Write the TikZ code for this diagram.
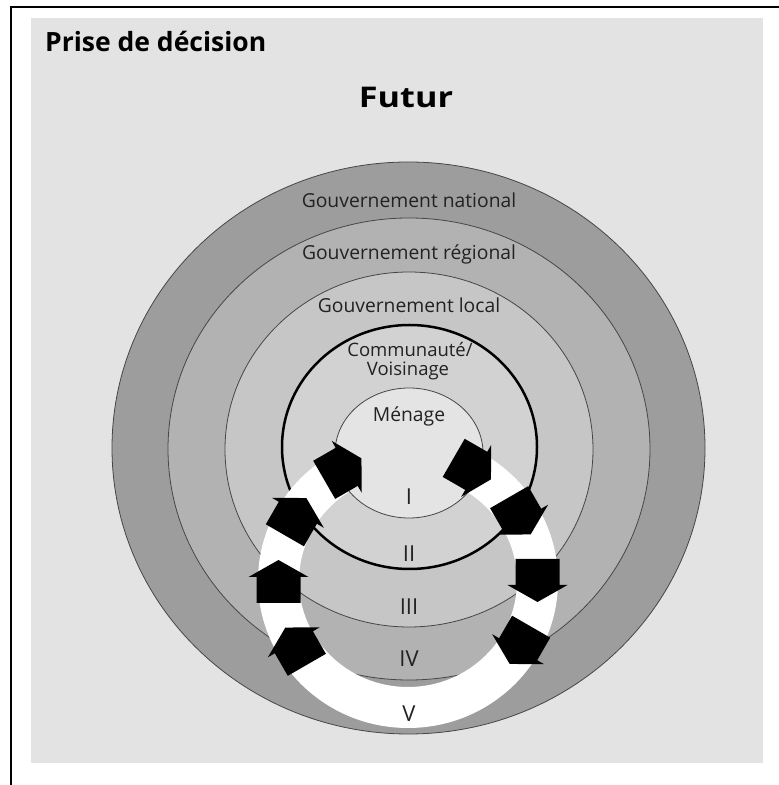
\documentclass[tikz,border=0pt]{standalone}
\usepackage{fontspec}
\setmainfont{Open Sans}
\definecolor{bggray}{RGB}{226,227,226}
\definecolor{natc}{RGB}{157,157,157}
\definecolor{regc}{RGB}{178,178,178}
\definecolor{locc}{RGB}{198,198,198}
\definecolor{comc}{RGB}{210,210,210}
\definecolor{menc}{RGB}{228,228,228}
\definecolor{linec}{RGB}{70,70,70}
\definecolor{txtc}{RGB}{34,34,34}
\tikzset{
  ringline/.style={draw=linec, line width=0.8pt},
  lab/.style={font=\fontsize{19.3}{21}\selectfont, text=txtc, inner sep=0pt, anchor=base},
  comlab/.style={font=\fontsize{18.5}{20}\selectfont, text=txtc, inner sep=0pt, anchor=base},
  numlab/.style={font=\fontsize{22}{24}\selectfont, text=txtc, inner sep=0pt, anchor=base},
  titlelab/.style={font=\fontsize{26.5}{30}\selectfont\bfseries, text=black, inner sep=0pt},
  blockarrow/.style={fill=black}
}
\begin{document}
\begin{tikzpicture}[x=1pt,y=1pt]
\useasboundingbox (0,0) rectangle (779,785);
\fill[white] (0,0) rectangle (779,785);
\fill[bggray] (31,22) rectangle (763,767);
\draw[line width=2pt] (11,0) -- (11,777.5) -- (779,777.5);

% concentric levels
\path[fill=natc, ringline] (408.5,337) ellipse [x radius=296.5, y radius=286];
\path[fill=regc, ringline] (409,336) ellipse [x radius=241, y radius=231];
\path[fill=locc, ringline] (409,335.5) ellipse [x radius=184, y radius=177.5];
\path[fill=comc, draw=black, line width=2.5pt] (409.5,338) ellipse [x radius=127.5, y radius=122];

% white ring
\fill[white, even odd rule] (408,204) ellipse [x radius=150, y radius=147]
                            (408,204) ellipse [x radius=109, y radius=106];

% household
\path[fill=menc, ringline] (409,332) ellipse [x radius=74, y radius=65];

% block arrows
\foreach \a in {120,150,180,210,60,30,0,-30}{
  \fill[blockarrow, shift={(408,204)}, rotate=\a]
    (107.5,22) -- (107.5,-4) -- (99.5,-4) -- (129.5,-21) -- (159.5,-4) -- (151.5,-4) -- (151.5,22) -- cycle;
}

% texts
\node[titlelab, anchor=base west] (title) at (45,733) {Prise de décision};
\node[titlelab, anchor=base, font=\fontsize{28.5}{30}\selectfont\bfseries, xscale=1.2, transform shape] (futur) at (406,677) {Futur};
\node[lab] (nat) at (409,577) {Gouvernement national};
\node[lab] (reg) at (409,525) {Gouvernement régional};
\node[lab] (loc) at (409,472) {Gouvernement local};
\node[comlab] (com1) at (410,428) {Communauté/};
\node[comlab] (com2) at (408,409) {Voisinage};
\node[lab] (men) at (409,363) {Ménage};
\node[numlab] (n1) at (409,280) {I};
\node[numlab] (n2) at (409,223) {II};
\node[numlab] (n3) at (409,170) {III};
\node[numlab] (n4) at (409,118) {IV};
\node[numlab] (n5) at (409,63) {V};
\end{tikzpicture}
\end{document}
